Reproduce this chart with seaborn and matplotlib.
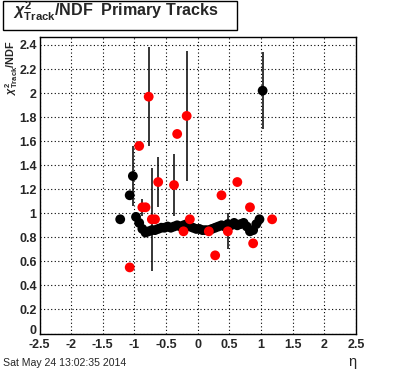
import matplotlib
matplotlib.use("Agg")
import matplotlib.pyplot as plt
import seaborn as sns
import pandas as pd
from matplotlib.patches import Rectangle
from matplotlib.transforms import ScaledTranslation
from matplotlib.ticker import MultipleLocator, FixedLocator, FixedFormatter

# ---------------- data ----------------
black_eta = [-1.225, -1.075, -1.025, -0.975, -0.925, -0.875, -0.825, -0.775, -0.725,
             -0.675, -0.625, -0.575, -0.525, -0.475, -0.425, -0.375, -0.325, -0.275,
             -0.225, -0.175, -0.125, -0.075, -0.025, 0.025, 0.075, 0.125, 0.175,
             0.225, 0.275, 0.325, 0.375, 0.425, 0.475, 0.525, 0.575, 0.625, 0.675,
             0.725, 0.775, 0.825, 0.875, 0.925, 0.975, 1.025]
black_chi2 = [0.95, 1.15, 1.31, 0.97, 0.92, 0.87, 0.84, 0.85, 0.86,
              0.86, 0.87, 0.88, 0.88, 0.89, 0.88, 0.89, 0.90, 0.89,
              0.90, 0.91, 0.89, 0.88, 0.87, 0.87, 0.86, 0.86, 0.86,
              0.87, 0.88, 0.89, 0.90, 0.89, 0.91, 0.90, 0.92, 0.90, 0.91,
              0.92, 0.89, 0.85, 0.86, 0.91, 0.95, 2.02]
black_err = [0, 0, 0.25, 0, 0, 0, 0, 0, 0,
             0, 0, 0, 0, 0, 0, 0, 0, 0,
             0, 0, 0, 0, 0, 0, 0, 0, 0,
             0, 0, 0, 0, 0, 0, 0, 0, 0, 0,
             0, 0, 0, 0, 0, 0, 0.32]

red_eta = [-1.075, -0.925, -0.875, -0.825, -0.775, -0.725, -0.675, -0.625, -0.375,
           -0.325, -0.225, -0.175, -0.125, 0.175, 0.275, 0.375, 0.475, 0.625,
           0.825, 0.875, 1.175]
red_chi2 = [0.55, 1.56, 1.05, 1.05, 1.97, 0.95, 0.95, 1.26, 1.235,
            1.66, 0.85, 1.81, 0.95, 0.85, 0.65, 1.15, 0.85, 1.26,
            1.05, 0.75, 0.95]
red_err = [0, 0, 0.07, 0, 0.41, 0.43, 0, 0.21, 0.26,
           0, 0, 0.54, 0, 0, 0, 0, 0.15, 0,
           0, 0, 0]

x_ticks = [-2.5, -2.0, -1.5, -1.0, -0.5, 0.0, 0.5, 1.0, 1.5, 2.0, 2.5]
x_tick_labels = ["-2.5", "-2", "-1.5", "-1", "-0.5", "0", "0.5", "1", "1.5", "2", "2.5"]
y_ticks = [0.0, 0.2, 0.4, 0.6, 0.8, 1.0, 1.2, 1.4, 1.6, 1.8, 2.0, 2.2, 2.4]
y_tick_labels = ["0", "0.2", "0.4", "0.6", "0.8", "1", "1.2", "1.4", "1.6", "1.8",
                 "2", "2.2", "2.4"]

title_text = r"$\chi^{2}_{\mathbf{Track}}$/NDF  Primary Tracks"
ylabel_text = r"$\chi^{2}_{\mathbf{Track}}$/NDF"
xlabel_text = "η"
date_text = "Sat May 24 13:02:35 2014"

# ---------------- style ----------------
sns.set_style("white")
plt.rcParams["font.family"] = ["Liberation Sans", "DejaVu Sans"]
plt.rcParams["axes.unicode_minus"] = False
plt.rcParams["mathtext.fontset"] = "custom"
plt.rcParams["mathtext.rm"] = "Liberation Sans:bold"
plt.rcParams["mathtext.it"] = "Liberation Sans:italic:bold"
plt.rcParams["mathtext.bf"] = "Liberation Sans:bold"

black_df = pd.DataFrame({"eta": black_eta, "chi2": black_chi2, "err": black_err})
red_df = pd.DataFrame({"eta": red_eta, "chi2": red_chi2, "err": red_err})

W, H = 396, 372
fig = plt.figure(figsize=(W / 100, H / 100), dpi=100)
fig.patch.set_facecolor("white")
ax = fig.add_axes([39.5 / W, 1 - 333.5 / H, (356 - 39.5) / W, (333.5 - 37.3) / H])
ax.set_facecolor("white")

# error bars (drawn first so markers sit on top)
for df in (black_df, red_df):
    e = df[df["err"] > 0]
    ax.errorbar(e["eta"], e["chi2"], yerr=e["err"], fmt="none", ecolor="black",
                elinewidth=1.1, capsize=0, zorder=2)

sns.scatterplot(data=black_df, x="eta", y="chi2", color="black", s=50,
                edgecolor="none", linewidth=0, ax=ax, legend=False, zorder=3)
sns.scatterplot(data=red_df, x="eta", y="chi2", color="#ff0000", s=50,
                edgecolor="none", linewidth=0, ax=ax, legend=False, zorder=4)

ax.set_xlim(-2.5, 2.5)
ax.set_ylim(0, 2.464)

ax.xaxis.set_major_locator(FixedLocator(x_ticks))
ax.xaxis.set_major_formatter(FixedFormatter(x_tick_labels))
ax.yaxis.set_major_locator(FixedLocator(y_ticks))
ax.yaxis.set_major_formatter(FixedFormatter(y_tick_labels))
ax.xaxis.set_minor_locator(MultipleLocator(0.1))
ax.yaxis.set_minor_locator(MultipleLocator(0.05))

ax.grid(True, which="major", color="black", linestyle=(0, (1, 2.2)), linewidth=0.8)
ax.set_axisbelow(True)

ax.tick_params(axis="both", which="major", direction="in", length=7, width=0.9,
               labelsize=9.0, pad=2, top=False, right=False)
ax.tick_params(axis="both", which="minor", direction="in", length=3.3, width=0.9,
               top=False, right=False)
ax.tick_params(axis="x", pad=3.6)
for lab in ax.get_xticklabels() + ax.get_yticklabels():
    lab.set_fontweight("bold")
for s in ax.spines.values():
    s.set_visible(True)
    s.set_color("black")
    s.set_linewidth(1.0)

# nudge the "0" y label up a little, as in the reference
zero_tick = ax.yaxis.get_major_ticks()[0]
zero_tick.label1.set_transform(zero_tick.label1.get_transform()
                               + ScaledTranslation(0, 3.5 / 100, fig.dpi_scale_trans))

ax.set_xlabel("")
ax.set_ylabel("")

# title box
fig.patches.append(Rectangle((3 / W, 1 - 30 / H), 234 / W, 29 / H,
                             transform=fig.transFigure, facecolor="white",
                             edgecolor="black", linewidth=1.0))
fig.text(13 / W, 1 - 16.5 / H, title_text, fontsize=11.6, fontweight="bold",
         ha="left", va="baseline")

# axis titles
fig.text(11.5 / W, 1 - 40 / H, ylabel_text, fontsize=7.8, fontweight="bold",
         rotation=90, ha="center", va="top")
fig.text(352 / W, 1 - 362 / H, xlabel_text, fontsize=10.5, ha="center", va="center")
fig.text(3 / W, 1 - 363 / H, date_text, fontsize=7.6, ha="left", va="center")

fig.savefig("out.png", dpi=100, facecolor="white")
